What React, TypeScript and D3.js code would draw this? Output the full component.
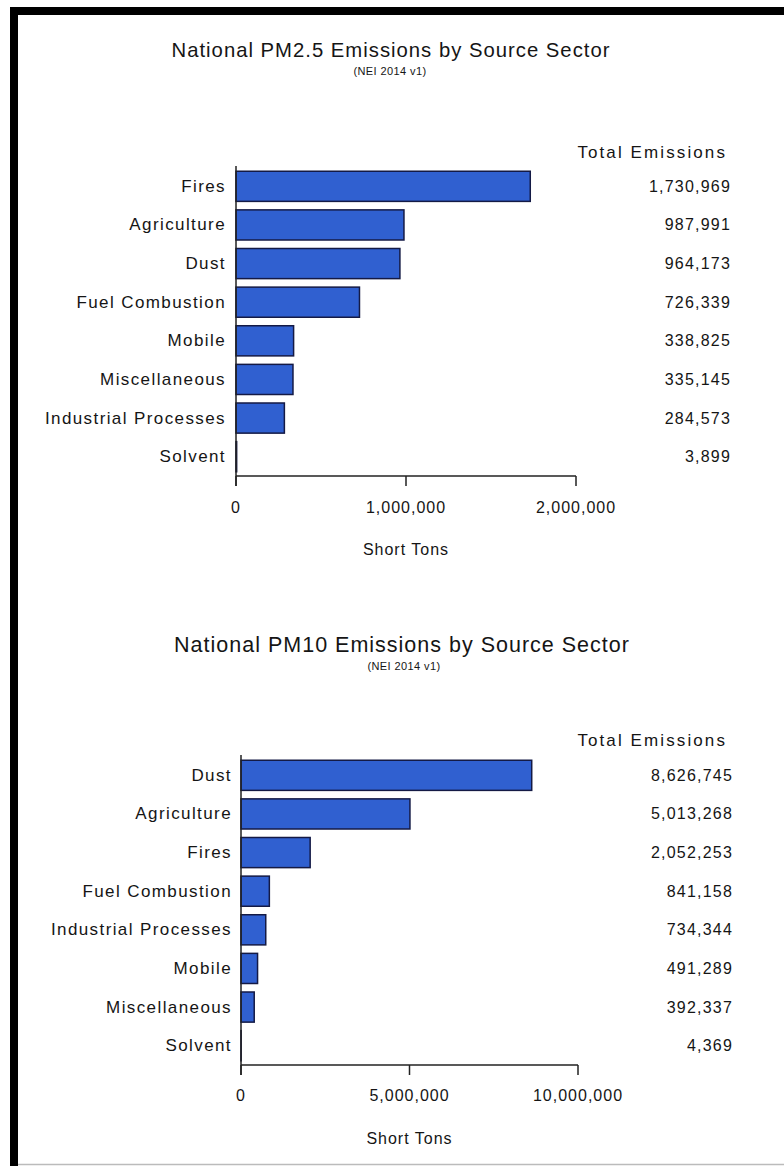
import React from "react";
import * as d3 from "d3";

const pm25Categories = ["Fires", "Agriculture", "Dust", "Fuel Combustion", "Mobile", "Miscellaneous", "Industrial Processes", "Solvent"];
const pm25Values = [1730969, 987991, 964173, 726339, 338825, 335145, 284573, 3899];
const pm25Ticks = [0, 1000000, 2000000];

const pm10Categories = ["Dust", "Agriculture", "Fires", "Fuel Combustion", "Industrial Processes", "Mobile", "Miscellaneous", "Solvent"];
const pm10Values = [8626745, 5013268, 2052253, 841158, 734344, 491289, 392337, 4369];
const pm10Ticks = [0, 5000000, 10000000];

const FONT = "'Liberation Sans', Arial, Helvetica, sans-serif";
const fmt = d3.format(",");

type ChartProps = {
  title: string;
  subtitle: string;
  categories: string[];
  values: number[];
  ticks: number[];
  titleX: number;
  titleY: number;
  titleSize: number;
  subX: number;
  subY: number;
  totalY: number;
  x0: number;
  x1: number;
  yTop: number;
  axisY: number;
  labelRight: number;
  valueRight: number;
  tickLabelY: number;
  axisTitleY: number;
};

function Chart(p: ChartProps) {
  const xMax = p.ticks[p.ticks.length - 1];
  const x = d3.scaleLinear().domain([0, xMax]).range([p.x0, p.x1]);
  const y = d3.scaleBand<string>().domain(p.categories).range([p.yTop, p.axisY]).paddingInner(0.22).paddingOuter(0.11);
  const bw = y.bandwidth();
  return (
    <g fontFamily={FONT} fill="#151515">
      <text x={p.titleX} y={p.titleY} textAnchor="middle" dominantBaseline="central" fontSize={p.titleSize} letterSpacing={1}>{p.title}</text>
      <text x={p.subX} y={p.subY} textAnchor="middle" dominantBaseline="central" fontSize={11} letterSpacing={0.4}>{p.subtitle}</text>
      <text x={727} y={p.totalY} textAnchor="end" dominantBaseline="central" fontSize={17} letterSpacing={2.1}>Total Emissions</text>
      {p.categories.map((c, i) => (
        <g key={c}>
          <rect x={x(0)} y={y(c)!} width={Math.max(0, x(p.values[i]) - x(0))} height={bw} fill="#3060d0" stroke="#141a45" strokeWidth={1.5} />
          <text x={p.labelRight} y={y(c)! + bw / 2} textAnchor="end" dominantBaseline="central" fontSize={17} letterSpacing={1.4}>{c}</text>
          <text x={p.valueRight} y={y(c)! + bw / 2} textAnchor="end" dominantBaseline="central" fontSize={16} letterSpacing={1.2}>{fmt(p.values[i])}</text>
        </g>
      ))}
      <line x1={p.x0} x2={p.x0} y1={p.yTop - 1} y2={p.axisY + 10} stroke="#222" strokeWidth={1.5} />
      <line x1={p.x0} x2={p.x1} y1={p.axisY} y2={p.axisY} stroke="#222" strokeWidth={1.5} />
      {p.ticks.map((t) => (
        <g key={t}>
          <line x1={x(t)} x2={x(t)} y1={p.axisY} y2={p.axisY + 10} stroke="#222" strokeWidth={1.5} />
          <text x={x(t)} y={p.tickLabelY} textAnchor="middle" dominantBaseline="central" fontSize={16} letterSpacing={1}>{fmt(t)}</text>
        </g>
      ))}
      <text x={(p.x0 + p.x1) / 2} y={p.axisTitleY} textAnchor="middle" dominantBaseline="central" fontSize={16} letterSpacing={1}>Short Tons</text>
    </g>
  );
}

export default function App() {
  return (
    <svg width={784} height={1166} style={{ position: "absolute", left: 0, top: 0, background: "#fff" }}>
      <rect x={0} y={0} width={784} height={1166} fill="#fff" />
      <rect x={10} y={7} width={774} height={8} fill="#000" />
      <rect x={10} y={7} width={8} height={1159} fill="#000" />
      <line x1={18} x2={784} y1={1164.5} y2={1164.5} stroke="#bbb" strokeWidth={1.5} />
      <Chart
        title="National PM2.5 Emissions by Source Sector"
        subtitle="(NEI 2014 v1)"
        categories={pm25Categories}
        values={pm25Values}
        ticks={pm25Ticks}
        titleX={391}
        titleY={50}
        titleSize={20.3}
        subX={390}
        subY={71}
        totalY={152}
        x0={236}
        x1={576}
        yTop={167}
        axisY={476}
        labelRight={226}
        valueRight={731}
        tickLabelY={507}
        axisTitleY={549}
      />
      <Chart
        title="National PM10 Emissions by Source Sector"
        subtitle="(NEI 2014 v1)"
        categories={pm10Categories}
        values={pm10Values}
        ticks={pm10Ticks}
        titleX={402}
        titleY={645}
        titleSize={21.5}
        subX={404}
        subY={666}
        totalY={740}
        x0={241}
        x1={578}
        yTop={756}
        axisY={1065}
        labelRight={232}
        valueRight={733}
        tickLabelY={1095}
        axisTitleY={1138}
      />
    </svg>
  );
}
